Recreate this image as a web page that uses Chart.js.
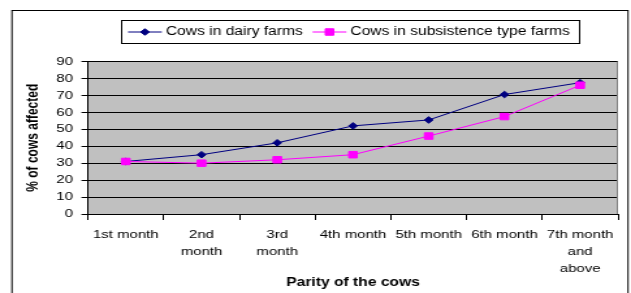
<!DOCTYPE html>
<html><head><meta charset="utf-8">
<script src="https://cdn.jsdelivr.net/npm/chart.js@4/dist/chart.umd.min.js"></script>
<style>
html,body{margin:0;padding:0;background:#fff;overflow:hidden;width:631px;height:293px;}
#wrap{position:absolute;left:0;top:0;width:485px;height:293px;transform:scaleX(1.30103);transform-origin:0 0;}
canvas{display:block;}
</style></head><body>
<div id="wrap"><canvas id="c" width="485" height="293"></canvas></div>
<script>
// ---- data ----
const categories = ['1st month', ['2nd', 'month'], ['3rd', 'month'], '4th month', '5th month', '6th month', ['7th month', 'and', 'above']];
const seriesNames = ['Cows in dairy farms', 'Cows in subsistence type farms'];
const dairyFarms = [31, 35, 42, 52, 55.5, 70.5, 77.5];
const subsistenceFarms = [31, 30, 32, 35, 46, 57.5, 76];
const yTickValues = [0, 10, 20, 30, 40, 50, 60, 70, 80, 90];
const yAxisTitle = '% of cows affected';
const xAxisTitle = 'Parity of the cows';

const FONT = '"Liberation Sans", Arial, Helvetica, sans-serif';
Chart.defaults.font.family = FONT;
Chart.defaults.color = '#000';

const seriesStyles = [
  { color: '#000080', pointStyle: 'rectRot', radius: 3.3 },
  { color: '#FF00FF', pointStyle: 'rect', radius: 4.6 }
];

const framePlugin = {
  id: 'frame',
  beforeDraw(chart) {
    const { ctx, chartArea: a, width, height } = chart;
    ctx.save();
    ctx.fillStyle = '#fff';
    ctx.fillRect(0, 0, width, height);
    ctx.fillStyle = '#C0C0C0';
    ctx.fillRect(a.left, a.top, a.right - a.left, a.bottom - a.top);
    ctx.strokeStyle = '#000';
    ctx.lineWidth = 1;
    ctx.strokeRect(9.2, 10.5, 473.5, 300);
    ctx.restore();
  },
  beforeDatasetsDraw(chart) {
    const { ctx, chartArea: a } = chart;
    ctx.save();
    ctx.strokeStyle = '#808080';
    ctx.lineWidth = 1;
    ctx.beginPath();
    ctx.moveTo(Math.round(a.right) - 0.5, a.top);
    ctx.lineTo(Math.round(a.right) - 0.5, a.bottom);
    ctx.stroke();
    ctx.restore();
  }
};

function drawMarker(ctx, style, x, y) {
  ctx.fillStyle = style.color;
  ctx.strokeStyle = style.color;
  ctx.beginPath();
  if (style.pointStyle === 'rectRot') {
    const r = style.radius;
    ctx.moveTo(x, y - r); ctx.lineTo(x + r, y); ctx.lineTo(x, y + r); ctx.lineTo(x - r, y); ctx.closePath();
  } else {
    const s = style.radius * Math.SQRT1_2;
    ctx.rect(x - s, y - s, 2 * s, 2 * s);
  }
  ctx.fill();
  ctx.stroke();
}

const legendPlugin = {
  id: 'boxLegend',
  afterDraw(chart) {
    const ctx = chart.ctx;
    const bx = 93, by = 20, bw = 352, bh = 23;
    ctx.save();
    ctx.fillStyle = '#fff';
    ctx.fillRect(bx, by, bw, bh);
    ctx.strokeStyle = '#000';
    ctx.lineWidth = 1;
    ctx.strokeRect(bx + 0.5, by + 0.5, bw, bh);
    ctx.font = '12px ' + FONT;
    ctx.textBaseline = 'middle';
    ctx.textAlign = 'left';
    const cy = by + bh / 2 + 0.5;
    let x = bx + 5.4;
    seriesNames.forEach((name, i) => {
      const st = seriesStyles[i];
      ctx.strokeStyle = st.color;
      ctx.lineWidth = 1;
      ctx.beginPath();
      ctx.moveTo(x, cy); ctx.lineTo(x + 26, cy);
      ctx.stroke();
      drawMarker(ctx, st, x + 13, cy);
      ctx.fillStyle = '#000';
      const tx = x + 29;
      ctx.fillText(name, tx, cy);
      x = tx + ctx.measureText(name).width + 7.5;
    });
    ctx.restore();
  }
};

const datasets = [dairyFarms, subsistenceFarms].map((vals, i) => ({
  label: seriesNames[i],
  data: vals,
  borderColor: seriesStyles[i].color,
  backgroundColor: seriesStyles[i].color,
  pointStyle: seriesStyles[i].pointStyle,
  pointRadius: seriesStyles[i].radius,
  pointHoverRadius: seriesStyles[i].radius,
  pointBorderWidth: 1,
  borderWidth: 1,
  tension: 0,
  fill: false,
  order: 2 - i
}));

new Chart(document.getElementById('c'), {
  type: 'line',
  data: { labels: categories, datasets },
  options: {
    responsive: false,
    devicePixelRatio: 1,
    animation: false,
    layout: { autoPadding: false, padding: { top: 61.5, right: 10, bottom: 0, left: 0 } },
    plugins: { legend: { display: false }, tooltip: { enabled: false } },
    scales: {
      x: {
        type: 'category',
        offset: true,
        grid: { offset: true, drawOnChartArea: false, drawTicks: true, tickLength: 6, tickColor: '#000', color: '#000', lineWidth: 1 },
        border: { display: true, color: '#000', width: 1 },
        ticks: { autoSkip: false, maxRotation: 0, minRotation: 0, padding: 6, color: '#000', font: { size: 11.5, lineHeight: 1.5 } },
        title: { display: true, text: xAxisTitle, color: '#000', font: { size: 12, weight: 'bold' }, padding: { top: 0, bottom: 2.8 } },
        afterFit(scale) { scale.height = 79; }
      },
      y: {
        min: yTickValues[0],
        max: yTickValues[yTickValues.length - 1],
        afterBuildTicks(scale) { scale.ticks = yTickValues.map(v => ({ value: v })); },
        grid: { color: '#000', lineWidth: 1, drawTicks: true, tickLength: 5, tickColor: '#000' },
        border: { display: true, color: '#000', width: 1 },
        ticks: { padding: 6.5, color: '#000', font: { size: 11.5 } },
        title: { display: true, text: yAxisTitle, color: '#000', font: { size: 12, weight: 'bold' }, padding: { top: 18, bottom: 0 } },
        afterFit(scale) { scale.width = 67.6; }
      }
    }
  },
  plugins: [framePlugin, legendPlugin]
});
</script>
</body></html>
